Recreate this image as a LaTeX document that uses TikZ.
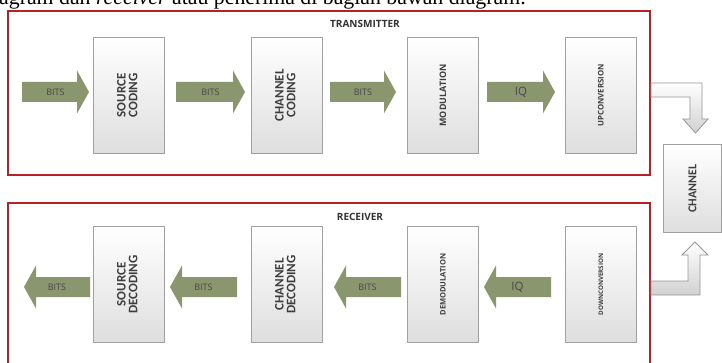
\documentclass[tikz,border=0pt]{standalone}
\usepackage{fontspec}
\setmainfont{Open Sans}
\newfontfamily\capfont{Liberation Serif}
\newfontfamily\stagefont{Carlito}
\usepackage{graphicx}

\definecolor{framered}{RGB}{182,32,40}
\definecolor{arrowgreen}{RGB}{138,150,110}
\definecolor{labelgray}{RGB}{62,62,62}
\definecolor{boxedge}{RGB}{160,160,160}
\definecolor{bentedge}{RGB}{150,150,150}

\tikzset{
  stage/.style={draw=boxedge, line width=0.9pt, top color=white, bottom color=black!13,
    minimum width=71pt, minimum height=116pt, inner sep=0pt, text=labelgray, anchor=north west},
  bigtext/.style={font=\stagefont\bfseries\fontsize{13}{11.5}\selectfont},
  frame/.style={draw=framered, line width=2pt, minimum width=642pt, inner sep=0pt, anchor=north west},
  frametitle/.style={font=\bfseries\fontsize{10}{10}\selectfont, text=black!80, inner sep=0pt},
  flowtext/.style={text=black!72, inner sep=0pt},
  bent/.style={draw=bentedge, line width=0.8pt, top color=white, bottom color=black!18, line join=miter},
}

% right-pointing block arrow: name, x start, x tip, y centre, label
\newcommand\fwdarrow[5]{%
  \fill[arrowgreen] ({#2},{#4-10}) -- ({#3-12},{#4-10}) -- ({#3-12},{#4-21.5}) -- ({#3},{#4})
    -- ({#3-12},{#4+21.5}) -- ({#3-12},{#4+10}) -- ({#2},{#4+10}) -- cycle;
  \node[flowtext] (#1) at ({(#2+#3)/2},{#4}) {#5};
}
% left-pointing block arrow: name, x tip, x end, y centre, label
\newcommand\bckarrow[5]{%
  \fill[arrowgreen] ({#3},{#4-10}) -- ({#2+12},{#4-10}) -- ({#2+12},{#4-21.5}) -- ({#2},{#4})
    -- ({#2+12},{#4+21.5}) -- ({#2+12},{#4+10}) -- ({#3},{#4+10}) -- cycle;
  \node[flowtext] (#1) at ({(#2+#3)/2},{#4}) {#5};
}
\newcommand\twolines[2]{\rotatebox{90}{\begin{tabular}{@{}c@{}}#1\\#2\end{tabular}}}
\newcommand\fitlabel[1]{\rotatebox{90}{\resizebox{62pt}{!}{\bfseries #1}}}
\newcommand\bitsfont{\fontsize{9}{9}\selectfont}
\newcommand\iqfont{\fontsize{11.5}{11.5}\selectfont}

\begin{document}
\begin{tikzpicture}[x=1pt, y=-1pt]
  \useasboundingbox (0,0) rectangle (722,363);
  \clip (0,0) rectangle (722,363);
  \fill[white] (0,0) rectangle (722,363);

  % running text line above the figure
  \node[anchor=base west, inner sep=0pt, font=\capfont\fontsize{21.8}{22}\selectfont] (caption) at (-1,5)
    {agram dan \textit{receiver} atau penerima di bagian bawah diagram.};

  % transmitter chain
  \node[frame, minimum height=164pt] (tx) at (7,10) {};
  \node[frametitle] (txtitle) at (365,24) {TRANSMITTER};
  \node[stage, bigtext] (src) at (93,37) {\twolines{SOURCE}{CODING}};
  \node[stage, bigtext] (chc) at (251,37) {\twolines{CHANNEL}{CODING}};
  \node[stage] (mod) at (407,37) {\fitlabel{MODULATION}};
  \node[stage] (up) at (565,37) {\fitlabel{UPCONVERSION}};
  \fwdarrow{b1}{22}{89}{92}{\bitsfont BITS}
  \fwdarrow{b2}{176}{245}{92}{\bitsfont BITS}
  \fwdarrow{b3}{330}{396}{92}{\bitsfont BITS}
  \fwdarrow{iq1}{487}{555}{92}{\iqfont IQ}

  % receiver chain
  \node[frame, minimum height=175pt] (rx) at (7,202) {};
  \node[frametitle] (rxtitle) at (360,217) {RECEIVER};
  \node[stage, bigtext] (sdec) at (93,226) {\twolines{SOURCE}{DECODING}};
  \node[stage, bigtext] (cdec) at (251,226) {\twolines{CHANNEL}{DECODING}};
  \node[stage] (demod) at (407,226) {\fitlabel{DEMODULATION}};
  \node[stage] (down) at (565,226) {\fitlabel{DOWNCONVERSION}};
  \bckarrow{r1}{24}{90}{287}{\bitsfont BITS}
  \bckarrow{r2}{170}{237}{287}{\bitsfont BITS}
  \bckarrow{r3}{334}{401}{287}{\bitsfont BITS}
  \bckarrow{iq2}{484}{551}{287}{\iqfont IQ}

  % channel
  \node[stage, minimum width=58pt, minimum height=88pt, font=\stagefont\bfseries\fontsize{12}{12}\selectfont] (ch) at (663,144)
    {\rotatebox{90}{CHANNEL}};

  % bent arrows: transmitter -> channel -> receiver
  \draw[bent] (651,83) -- (702,83) -- (702,119) -- (708,119) -- (695.5,133) -- (683,119)
    -- (690,119) -- (690,97) -- (651,97) -- cycle;
  \draw[bent] (651,295) -- (700,295) -- (700,255) -- (708,255) -- (695,242) -- (682,255)
    -- (688,255) -- (688,281) -- (651,281) -- cycle;
\end{tikzpicture}
\end{document}
